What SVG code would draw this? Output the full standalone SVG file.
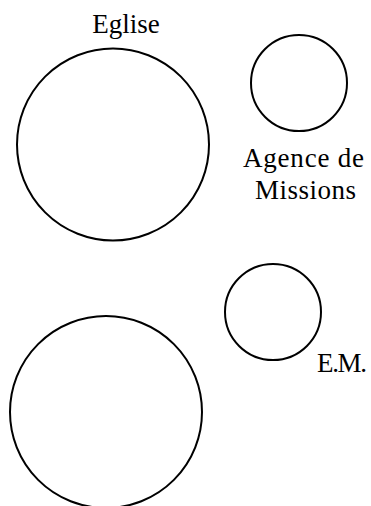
<svg xmlns="http://www.w3.org/2000/svg" width="371" height="506" viewBox="0 0 371 506">
<style>
.c{fill:none;stroke:#000;stroke-width:2}
.t{font-family:"Liberation Serif","DejaVu Serif",serif;font-size:27px;fill:#000}
</style>
<rect width="371" height="506" fill="#fff"/>
<g id="eglise">
<circle class="c" cx="113" cy="144.5" r="96"/>
<text class="t" x="126" y="33" text-anchor="middle">Eglise</text>
</g>
<g id="agence">
<circle class="c" cx="299" cy="83" r="48"/>
<text class="t" x="243" y="167" textLength="121">Agence de</text>
<text class="t" x="255" y="199" textLength="101">Missions</text>
</g>
<g id="em">
<circle class="c" cx="273" cy="312" r="48"/>
<text class="t" x="317" y="372" textLength="50">E.M.</text>
</g>
<g id="bottom">
<circle class="c" cx="106" cy="412" r="96"/>
</g>
<g id="connectors"></g>
</svg>
